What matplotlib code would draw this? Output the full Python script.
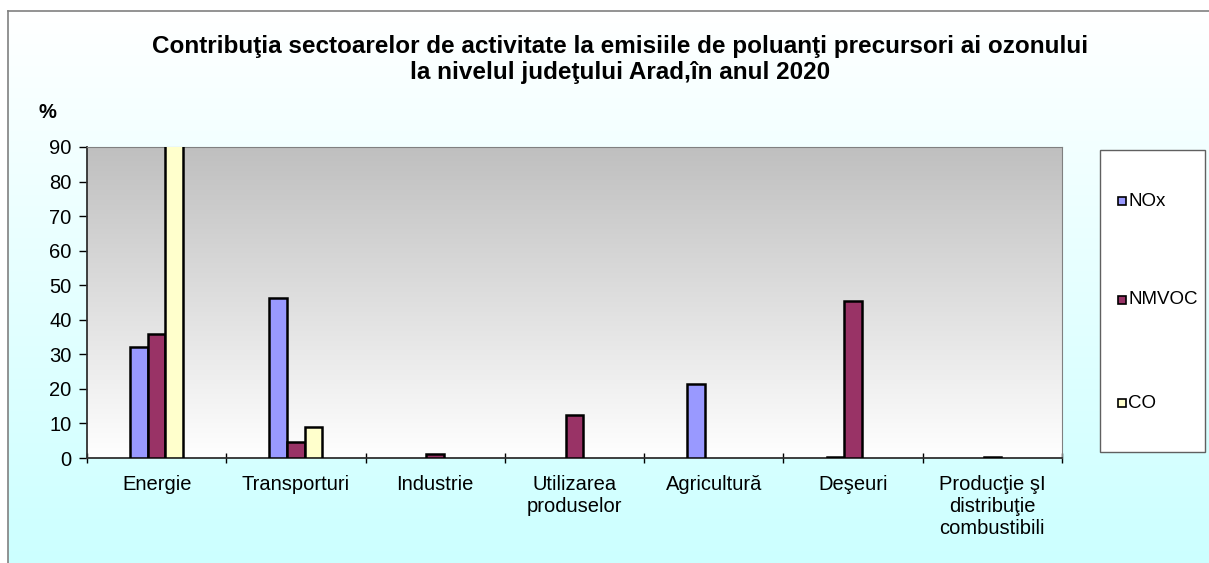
import matplotlib
matplotlib.use('Agg')

import matplotlib.pyplot as plt
import numpy as np
from matplotlib.patches import Rectangle

plt.rcParams['font.family'] = ['Liberation Sans', 'DejaVu Sans']

# Data (%)
sectors = ['Energie', 'Transporturi', 'Industrie', 'Utilizarea\nproduselor',
           'Agricultură', 'Deşeuri', 'Producţie şI\ndistribuţie\ncombustibili']
nox = [32.0, 46.2, 0.0, 0.0, 21.5, 0.25, 0.0]
nmvoc = [35.8, 4.5, 1.3, 12.3, 0.0, 45.5, 0.3]
co = [95.0, 9.0, 0.0, 0.0, 0.0, 0.0, 0.0]
series = [('NOx', nox, '#9999FF'), ('NMVOC', nmvoc, '#993366'), ('CO', co, '#FFFFCC')]
yticks = list(range(0, 91, 10))

W, H = 1209, 563
fig = plt.figure(figsize=(W / 100, H / 100), dpi=100)
fig.patch.set_facecolor('white')

# Outer chart area: white -> light cyan gradient, with grey frame (top/left)
bg = fig.add_axes([8 / W, 0, 1 - 8 / W, (H - 11) / H], zorder=-10)
grad = np.linspace(0, 1, 256).reshape(-1, 1)
top_c = np.array([1.0, 1.0, 1.0])
bot_c = np.array([0.80, 1.0, 1.0])
bg.imshow(top_c + (bot_c - top_c) * grad[:, :, None] * np.ones((1, 1, 3)),
          aspect='auto', extent=[0, 1, 0, 1])
bg.set_xlim(0, 1)
bg.set_ylim(0, 1)
bg.set_xticks([])
bg.set_yticks([])
for side, s in bg.spines.items():
    s.set_color('#808080')
    s.set_linewidth(1.2)
    if side in ('right', 'bottom'):
        s.set_visible(False)

# Plot area
ax = fig.add_axes([87 / W, (H - 458) / H, (1062 - 87) / W, (458 - 147) / H])
ax.set_xlim(0, len(sectors))
ax.set_ylim(0, 90)
pg_top = np.array([0.75, 0.75, 0.75])
pg_bot = np.array([1.0, 1.0, 1.0])
ax.imshow(pg_top + (pg_bot - pg_top) * grad[:, :, None] * np.ones((1, 1, 3)),
          aspect='auto', extent=[0, len(sectors), 0, 90], zorder=0)

x = np.arange(len(sectors)) + 0.5
bw = 0.127
for i, (name, vals, col) in enumerate(series):
    vals = np.array(vals)
    keep = vals > 0
    ax.bar((x + (i - 1) * bw)[keep], vals[keep], width=bw, color=col, edgecolor='black',
           linewidth=1.8, zorder=3, label=name)

ax.set_yticks(yticks)
ax.set_yticklabels([str(v) for v in yticks], fontsize=14.5)
ax.set_xticks(np.arange(len(sectors) + 1))
ax.set_xticklabels([])
ax.set_xticks(x, minor=True)
ax.set_xticklabels(sectors, minor=True, fontsize=14.5, linespacing=1.2)
ax.tick_params(axis='x', which='minor', length=0, pad=12)
ax.tick_params(axis='x', which='major', length=7, direction='inout', width=1)
ax.tick_params(axis='y', length=6, direction='out', width=1, pad=5)

ax.spines['left'].set_color('#303030')
ax.spines['bottom'].set_color('#303030')
ax.spines['left'].set_linewidth(1.3)
ax.spines['bottom'].set_linewidth(1.3)
ax.spines['top'].set_color('#808080')
ax.spines['right'].set_color('#808080')

# Titles
fig.text(620 / W, 1 - 46 / H, 'Contribuţia sectoarelor de activitate la emisiile de poluanţi precursori ai ozonului',
         ha='center', va='center', fontsize=17.5, fontweight='bold')
fig.text(620 / W, 1 - 72 / H, 'la nivelul judeţului Arad,în anul 2020',
         ha='center', va='center', fontsize=17.5, fontweight='bold')
fig.text(47 / W, 1 - 112 / H, '%', ha='center', va='center', fontsize=14.5, fontweight='bold')

# Legend box
lx0, ly0, lx1, ly1 = 1100, 150, 1205, 452
fig.patches.append(Rectangle((lx0 / W, 1 - ly1 / H), (lx1 - lx0) / W, (ly1 - ly0) / H,
                             transform=fig.transFigure, facecolor='white',
                             edgecolor='#606060', linewidth=1.0, zorder=1))
for (name, vals, col), yy in zip(series, [201, 300, 403]):
    fig.patches.append(Rectangle((1118 / W, 1 - (yy + 4) / H), 8 / W, 8 / H,
                                 transform=fig.transFigure, facecolor=col,
                                 edgecolor='black', linewidth=1.2, zorder=2))
    fig.text(1128 / W, 1 - yy / H, name, ha='left', va='center', fontsize=13.5, zorder=3)

fig.savefig('out.png', dpi=100)
plt.close(fig)
